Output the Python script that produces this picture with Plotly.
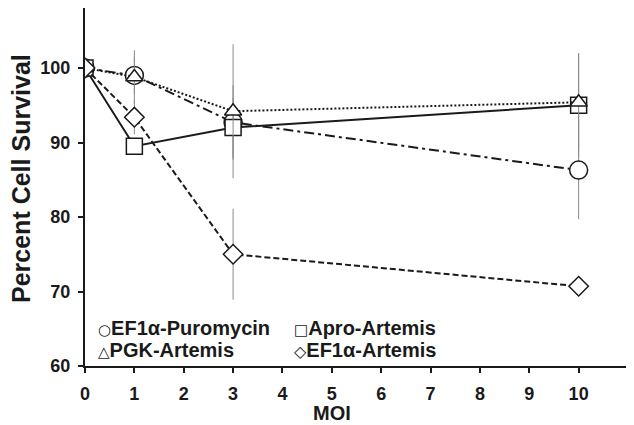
import plotly.graph_objects as go

moi = [0, 1, 3, 10]

series_names = ["EF1α-Puromycin", "Apro-Artemis", "PGK-Artemis", "EF1α-Artemis"]
legend_glyphs = ["○", "□", "△", "◇"]

puro_vals = [100, 99.0, 92.7, 86.3]
puro_err = [0, 2.5, 5.0, 6.6]

apro_vals = [100, 89.5, 92.0, 95.0]
apro_err = [0, 1.0, 4.0, 7.0]

pgk_vals = [100, 98.8, 94.2, 95.4]
pgk_err = [0, 3.6, 9.0, 6.5]

ef1a_vals = [100, 93.4, 75.0, 70.7]
ef1a_err = [0, 2.3, 6.1, 0.8]

x_ticks = list(range(0, 12))
y_ticks = [60, 70, 80, 90, 100]

FONT = "Arial, Liberation Sans, Helvetica, sans-serif"
INK = "#1a1a1a"

# page body has an 8px margin; figure is sized / placed to compensate
W, H = 626, 417
PL, PT = 85, 8          # plot-area left/top in page pixels
PR, PB = 628, 366       # plot-area right/bottom in page pixels
PW, PH = PR - PL, PB - PT


def px_x(p):
    return (p - PL) / PW


def px_y(p):
    return (PB - p) / PH


styles = [
    dict(vals=puro_vals, err=puro_err, dash="10px,4px,3px,4px", symbol="circle", size=18),
    dict(vals=apro_vals, err=apro_err, dash="solid", symbol="square", size=16),
    dict(vals=pgk_vals, err=pgk_err, dash="2px,2px", symbol="triangle-up", size=15),
    dict(vals=ef1a_vals, err=ef1a_err, dash="6px,3px", symbol="diamond", size=15),
]

fig = go.Figure()
for name, st in zip(series_names, styles):
    fig.add_trace(go.Scatter(
        x=moi, y=st["vals"], name=name, mode="lines+markers",
        line=dict(color=INK, width=2, dash=st["dash"]),
        marker=dict(symbol=st["symbol"], size=st["size"], color="white",
                    line=dict(color=INK, width=1.5)),
        error_y=dict(type="data", array=st["err"], visible=True,
                     color="#8a8a8a", thickness=1, width=0),
        showlegend=False,
    ))

# legend drawn as text (glyph + name), two rows x two columns
glyph_sizes = [15, 15, 15, 16]
legend_pos = [(96, 328), (292, 328), (96, 350), (292, 350)]
for (lx, ly), g, gs, n in zip(legend_pos, legend_glyphs, glyph_sizes, series_names):
    fig.add_annotation(
        xref="paper", yref="paper", x=px_x(lx), y=px_y(ly), xanchor="left",
        yanchor="middle", showarrow=False,
        text=f"<span style='font-family:DejaVu Sans;font-weight:normal;font-size:{gs}px'>{g}</span>{n}",
        font=dict(family=FONT, size=20, color=INK, weight="bold"))

fig.add_annotation(xref="paper", yref="paper", x=px_x(21), y=px_y(179),
                   text="Percent Cell Survival", textangle=-90, showarrow=False,
                   xanchor="center", yanchor="middle",
                   font=dict(family=FONT, size=25, color=INK, weight="bold"))
fig.add_annotation(xref="paper", yref="paper", x=px_x(332), y=px_y(413),
                   text="MOI", showarrow=False, xanchor="center", yanchor="middle",
                   font=dict(family=FONT, size=20, color=INK, weight="bold"))

y_top = 100 + (68 - PT) / 7.45

fig.update_layout(
    width=W, height=H,
    margin=dict(l=PL - 8, r=W - (PR - 8), t=PT - 8, b=H - (PB - 8)),
    paper_bgcolor="white", plot_bgcolor="white",
    font=dict(family=FONT, color=INK),
)
fig.update_xaxes(
    range=[0, 11], tickvals=x_ticks, ticktext=[str(v) for v in x_ticks],
    showgrid=False, zeroline=False, showline=True, linecolor=INK, linewidth=2,
    ticks="outside", ticklen=5, tickwidth=1.5, tickcolor=INK,
    tickfont=dict(family=FONT, size=18, color=INK, weight="bold"),
    ticklabelstandoff=5,
)
fig.update_yaxes(
    range=[60, y_top], tickvals=y_ticks, ticktext=[str(v) for v in y_ticks],
    showgrid=False, zeroline=False, showline=True, linecolor=INK, linewidth=2,
    ticks="outside", ticklen=5, tickwidth=1.5, tickcolor=INK,
    tickfont=dict(family=FONT, size=18, color=INK, weight="bold"),
    ticklabelstandoff=4,
)

fig.write_html("out.html")
